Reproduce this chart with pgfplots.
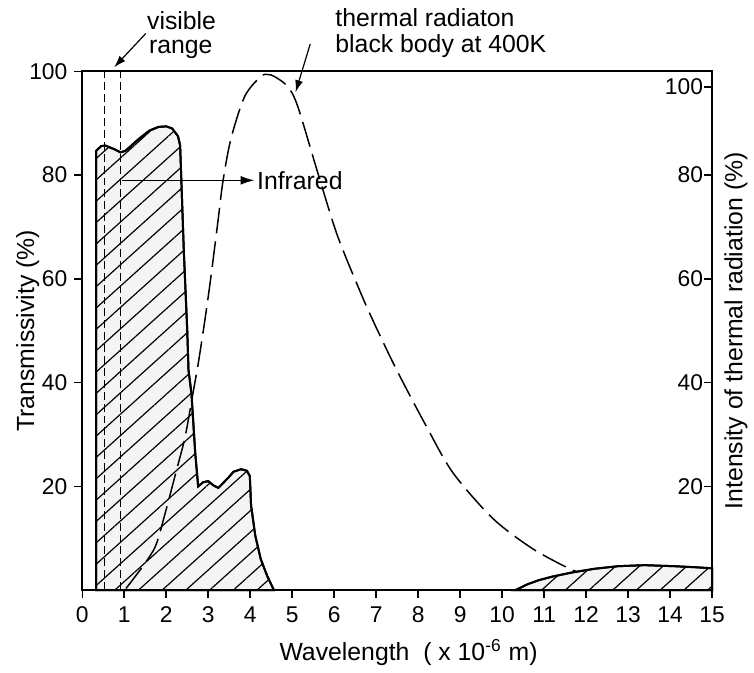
\documentclass[border=0pt]{standalone}
\usepackage{fontspec}
\setmainfont{Liberation Sans}
\usepackage{pgfplots}
\pgfplotsset{compat=1.18}
\usetikzlibrary{patterns.meta,arrows.meta}

\begin{document}
\begin{tikzpicture}
\begin{axis}[
  scale only axis,
  width=317.5pt, height=261.5pt,
  xmin=0, xmax=15, ymin=0, ymax=100,
  xtick={0,1,...,15},
  ytick={20,40,60,80,100},
  xtick pos=bottom, ytick pos=left,
  tick align=outside,
  major tick length=4pt,
  axis line style={line width=1.1pt},
  tick style={line width=0.8pt, black},
  /pgf/number format/assume math mode=true,
  ticklabel style={font=\fontsize{11.5}{13}\selectfont},
  xticklabel style={yshift=-1pt},
  xlabel={Wavelength\ \ ( x 10\textsuperscript{-6} m)},
  ylabel={Transmissivity (\%)},
  label style={font=\fontsize{12.5}{14}\selectfont},
  xlabel style={at={(rel axis cs:0.518,-0.1205)}, anchor=center},
  ylabel style={at={(rel axis cs:-0.0866,0.5)}, anchor=center},
  clip=false,
]

% transmissivity, short wavelength band
\addplot[draw=black, line width=1pt, fill=gray!9,
  postaction={pattern={Lines[angle=42,distance=8pt,line width=0.6pt]}}]
coordinates {
  (0.33,0) (0.33,84.7) (0.45,85.6) (0.55,85.7) (0.76,85.0) (0.91,84.4)
  (1.03,84.7) (1.35,87.0) (1.6,88.6) (1.82,89.3) (2.0,89.4) (2.14,89.0)
  (2.28,87.5) (2.33,85.7) (2.42,65) (2.5,50) (2.53,42.4) (2.6,37.9)
  (2.69,26.4) (2.76,20.0) (2.88,20.8) (3.0,21.0) (3.12,20.2) (3.24,19.7)
  (3.35,20.6) (3.47,21.6) (3.6,22.8) (3.78,23.3) (3.92,23.0) (3.99,22.0)
  (4.02,16.3) (4.12,10.5) (4.25,6.0) (4.4,2.8) (4.54,0.4) (4.56,0)
} \closedcycle;

% transmissivity, long wavelength band
\addplot[draw=black, line width=1pt, fill=gray!9,
  postaction={pattern={Lines[angle=42,distance=8pt,line width=0.6pt]}}]
coordinates {
  (10.32,0) (10.6,1.1) (10.87,1.9) (11.2,2.6) (11.67,3.4) (12.2,4.1)
  (12.76,4.6) (13.4,4.8) (14.1,4.6) (14.6,4.4) (15,4.2) (15,0)
} \closedcycle;

% black body at 400 K
\addplot[black, line width=0.75pt, dash pattern=on 13pt off 4pt, smooth, tension=0.5]
coordinates {
  (1.04,0.3) (1.46,4.8) (1.75,8.6) (1.98,15) (2.24,23) (2.45,29.6)
  (2.65,38.6) (2.76,43.6) (2.93,52.6) (3.07,60.8) (3.24,71.7) (3.35,78.8)
  (3.54,87) (3.87,95.2) (4.25,99) (4.42,99.4) (4.58,99) (4.89,97.1)
  (5.13,93.3) (5.6,80.7) (6.07,68.5) (6.61,57.7) (6.95,51.5) (7.49,42.4)
  (8.2,31.5) (8.83,22.6) (9.78,13.8) (10.72,8) (11.58,4.2) (11.75,3.7)
};

% visible range limits
\addplot[black, line width=0.6pt, dash pattern=on 4pt off 2pt] coordinates {(0.52,0) (0.52,100)};
\addplot[black, line width=0.6pt, dash pattern=on 4pt off 2pt] coordinates {(0.91,0) (0.91,100)};

% annotations
\draw[line width=0.7pt, -{Latex[length=7pt,width=4.5pt]}] (axis cs:0.95,79) -- (axis cs:4.1,79)
  node[right, inner sep=1pt, font=\fontsize{12.5}{14}\selectfont] {Infrared};
\node[anchor=base west, inner sep=0pt, font=\fontsize{12.5}{14}\selectfont] at (axis cs:1.535,108.0) {visible};
\node[anchor=base west, inner sep=0pt, font=\fontsize{12.5}{14}\selectfont] at (axis cs:1.58,103.4) {range};
\draw[line width=0.6pt, -{Latex[length=6pt,width=4pt]}] (axis cs:1.51,107.3) -- (axis cs:0.76,100.8);
\node[anchor=base west, inner sep=0pt, font=\fontsize{12.5}{14}\selectfont] at (axis cs:6.02,108.6) {thermal radiaton};
\node[anchor=base west, inner sep=0pt, font=\fontsize{12.5}{14}\selectfont] at (axis cs:6.02,103.6) {black body at 400K};
\draw[line width=0.6pt, -{Latex[length=6pt,width=4pt]}] (axis cs:5.43,105.3) -- (axis cs:5.08,96);

% page extent of the reference
\path (rel axis cs:-0.1307,-0.1415) rectangle (rel axis cs:1.0567,1.1377);
\end{axis}

\begin{axis}[
  scale only axis,
  width=317.5pt, height=261.5pt,
  xmin=0, xmax=15, ymin=0, ymax=100,
  axis x line=none,
  axis y line*=right,
  axis line style={line width=1.1pt},
  ytick={20,40,60,80,97},
  yticklabels={20,40,60,80,100},
  tick align=inside,
  major tick length=4pt,
  tick style={line width=0.8pt, black},
  /pgf/number format/assume math mode=true,
  yticklabel style={font=\fontsize{11.5}{13}\selectfont, anchor=east, xshift=-1pt},
  ylabel={Intensity of thermal radiation (\%)},
  ylabel style={font=\fontsize{12.5}{14}\selectfont, at={(rel axis cs:1.0378,0.5)}, anchor=center},
]
\end{axis}
\end{tikzpicture}
\end{document}
